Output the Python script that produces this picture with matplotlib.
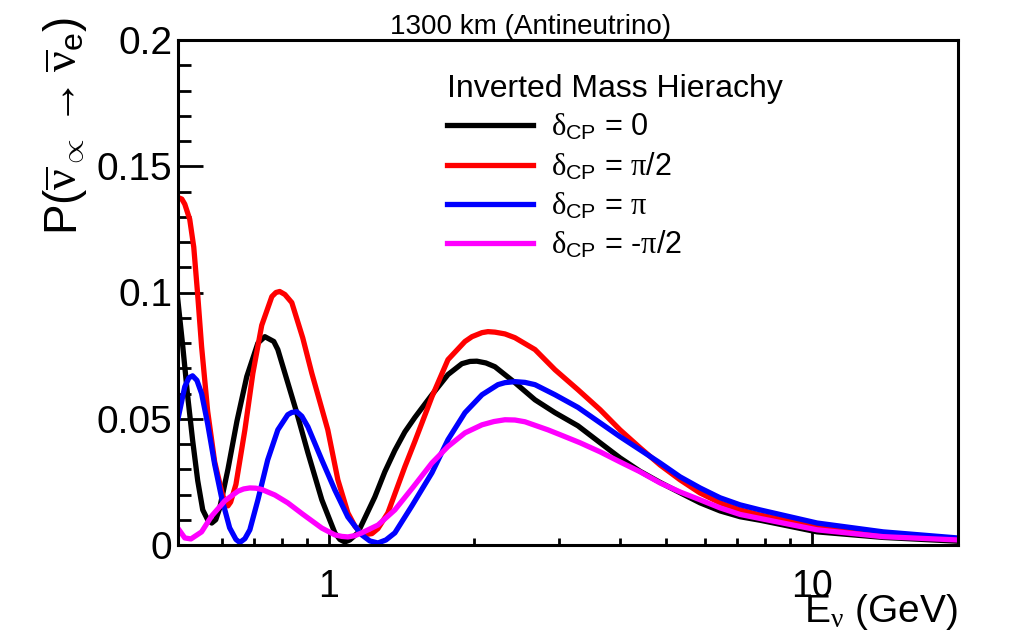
#oscilacao antineutrino 1300 km - hierarquia invertida

import numpy as np
import matplotlib
matplotlib.use('Agg')
import matplotlib.pyplot as plt
from matplotlib.ticker import MultipleLocator, NullFormatter

plt.rcParams['font.family'] = ['Liberation Sans', 'DejaVu Sans']
plt.rcParams['mathtext.fontset'] = 'custom'
plt.rcParams['mathtext.rm'] = 'Liberation Sans'
plt.rcParams['mathtext.it'] = 'Liberation Serif'
plt.rcParams['mathtext.sf'] = 'Liberation Sans'

# dados (E em GeV, probabilidade)
E_d0 = [0.486, 0.498, 0.510, 0.522, 0.535, 0.548, 0.561, 0.572, 0.583, 0.594,
        0.618, 0.645, 0.676, 0.713, 0.737, 0.769, 0.784, 0.822, 0.858, 0.905,
        0.967, 1.029, 1.054, 1.079, 1.105, 1.148, 1.245, 1.306, 1.370, 1.437,
        1.507, 1.635, 1.765, 1.886, 1.960, 2.026, 2.115, 2.208, 2.429, 2.673,
        2.941, 3.281, 3.646, 4.010, 4.412, 4.853, 5.340, 5.874, 6.463, 7.110,
        7.823, 10.27, 14.07, 20.03]
P_d0 = [0.0980, 0.0790, 0.0590, 0.0417, 0.0255, 0.0139, 0.0100, 0.0087, 0.0100, 0.0145,
        0.0300, 0.0490, 0.0667, 0.0800, 0.0825, 0.0806, 0.0774, 0.0643, 0.0524, 0.0365,
        0.0179, 0.0048, 0.0022, 0.0012, 0.0020, 0.0048, 0.0190, 0.0290, 0.0375, 0.0448,
        0.0505, 0.0595, 0.0675, 0.0718, 0.0727, 0.0728, 0.0721, 0.0706, 0.0643, 0.0575,
        0.0524, 0.0472, 0.0405, 0.0345, 0.0292, 0.0248, 0.0207, 0.0167, 0.0135, 0.0112,
        0.0098, 0.0052, 0.0030, 0.0015]

E_dpi2 = [0.486, 0.496, 0.503, 0.515, 0.525, 0.535, 0.545, 0.561, 0.580, 0.600,
          0.609, 0.618, 0.626, 0.642, 0.670, 0.696, 0.726, 0.762, 0.777, 0.791,
          0.811, 0.838, 0.883, 0.922, 0.995, 1.044, 1.095, 1.132, 1.159, 1.193,
          1.228, 1.264, 1.325, 1.437, 1.507, 1.635, 1.765, 1.914, 1.979, 2.076,
          2.136, 2.208, 2.316, 2.429, 2.673, 2.941, 3.281, 3.646, 4.010, 4.412,
          4.853, 5.340, 5.874, 6.463, 7.110, 7.823, 10.27, 14.07, 20.03]
P_dpi2 = [0.1377, 0.1370, 0.1350, 0.1290, 0.1180, 0.0990, 0.0786, 0.0530, 0.0330, 0.0210,
          0.0170, 0.0155, 0.0170, 0.0240, 0.0456, 0.0680, 0.0870, 0.0984, 0.1000, 0.1004,
          0.0992, 0.0960, 0.0820, 0.0680, 0.0456, 0.0258, 0.0127, 0.0075, 0.0052, 0.0042,
          0.0045, 0.0065, 0.0127, 0.0310, 0.0410, 0.0587, 0.0734, 0.0806, 0.0825, 0.0841,
          0.0845, 0.0843, 0.0836, 0.0821, 0.0774, 0.0694, 0.0615, 0.0536, 0.0456, 0.0385,
          0.0317, 0.0258, 0.0206, 0.0167, 0.0139, 0.0119, 0.0071, 0.0040, 0.0022]

E_dpi = [0.484, 0.503, 0.513, 0.522, 0.533, 0.545, 0.561, 0.580, 0.600, 0.623,
         0.642, 0.654, 0.670, 0.686, 0.713, 0.747, 0.784, 0.822, 0.838, 0.858,
         0.879, 0.905, 0.967, 1.029, 1.095, 1.170, 1.216, 1.264, 1.313, 1.370,
         1.486, 1.635, 1.765, 1.914, 2.076, 2.240, 2.316, 2.429, 2.548, 2.673,
         2.941, 3.281, 3.646, 4.010, 4.412, 4.853, 5.340, 5.874, 6.463, 7.110,
         7.823, 10.27, 14.07, 20.03]
P_dpi = [0.0476, 0.0627, 0.0662, 0.0670, 0.0652, 0.0600, 0.0480, 0.0320, 0.0185, 0.0068,
         0.0022, 0.0010, 0.0025, 0.0060, 0.0179, 0.0337, 0.0456, 0.0516, 0.0525, 0.0528,
         0.0510, 0.0468, 0.0337, 0.0218, 0.0111, 0.0040, 0.0016, 0.0008, 0.0020, 0.0048,
         0.0155, 0.0286, 0.0417, 0.0524, 0.0595, 0.0635, 0.0643, 0.0647, 0.0644, 0.0635,
         0.0595, 0.0545, 0.0484, 0.0429, 0.0377, 0.0325, 0.0270, 0.0226, 0.0187, 0.0159,
         0.0139, 0.0087, 0.0052, 0.0028]

E_dmpi2 = [0.484, 0.503, 0.518, 0.545, 0.572, 0.609, 0.648, 0.666, 0.686, 0.706,
           0.726, 0.773, 0.822, 0.883, 0.967, 1.029, 1.064, 1.095, 1.132, 1.170,
           1.264, 1.370, 1.493, 1.635, 1.765, 1.914, 2.076, 2.198, 2.316, 2.429,
           2.548, 2.844, 3.012, 3.313, 3.646, 4.010, 4.412, 4.853, 5.340, 5.874,
           6.463, 7.110, 7.823, 10.27, 14.07, 20.03]
P_dmpi2 = [0.0073, 0.0028, 0.0024, 0.0052, 0.0115, 0.0175, 0.0213, 0.0222, 0.0226, 0.0225,
           0.0220, 0.0198, 0.0167, 0.0122, 0.0067, 0.0040, 0.0034, 0.0032, 0.0037, 0.0048,
           0.0079, 0.0139, 0.0228, 0.0325, 0.0390, 0.0444, 0.0476, 0.0489, 0.0496, 0.0495,
           0.0488, 0.0456, 0.0437, 0.0405, 0.0369, 0.0329, 0.0290, 0.0246, 0.0210, 0.0179,
           0.0147, 0.0121, 0.0105, 0.0060, 0.0033, 0.0020]

labels = [r'$\delta_{\mathrm{CP}}$ = 0', r'$\delta_{\mathrm{CP}}$ = $\pi$/2',
          r'$\delta_{\mathrm{CP}}$ = $\pi$', r'$\delta_{\mathrm{CP}}$ = -$\pi$/2']
colors = ['black', 'red', 'blue', 'magenta']

y_ticks = [0, 0.05, 0.1, 0.15, 0.2]
y_ticklabels = ['0', '0.05', '0.1', '0.15', '0.2']
x_ticks = [1, 10]
x_ticklabels = ['1', '10']
x_minor = [0.6, 0.7, 0.8, 0.9, 2, 3, 4, 5, 6, 7, 8, 9]

# figura
fig = plt.figure(figsize=(10.15, 6.4), dpi=100)
ax = fig.add_axes([178/1015, 95/640, 780/1015, 505/640])

series = [(E_d0, P_d0), (E_dpi2, P_dpi2), (E_dpi, P_dpi), (E_dmpi2, P_dmpi2)]
lines = []
for (e, p), c, lab in zip(series, colors, labels):
    l, = ax.plot(e, p, color=c, lw=3.8, label=lab, solid_joinstyle='round')
    lines.append(l)

ax.set_xscale('log')
ax.set_xlim(0.487, 20.1)
ax.set_ylim(0, 0.2)

ax.set_xticks(x_ticks, x_ticklabels)
ax.set_xticks(x_minor, minor=True)
ax.xaxis.set_minor_formatter(NullFormatter())
ax.set_yticks(y_ticks, y_ticklabels)
ax.yaxis.set_minor_locator(MultipleLocator(0.01))

ax.tick_params(axis='y', which='major', direction='in', length=18, width=2,
               labelsize=28, pad=4)
ax.tick_params(axis='y', which='minor', direction='in', length=9, width=2)
ax.tick_params(axis='x', which='major', direction='in', length=10, width=2,
               labelsize=27, pad=17)
ax.tick_params(axis='x', which='minor', direction='in', length=5, width=2)
ax.tick_params(top=False, right=False, which='both')
for s in ax.spines.values():
    s.set_linewidth(2.2)

# textos
fig.text(531/1015, 1 - 27/640, '1300 km (Antineutrino)', ha='center', va='center',
         fontsize=20)
fig.text(65/1015, 1 - 18/640,
         r'$\mathrm{P}(\overline{\nu}_{\propto} \rightarrow \overline{\nu}_{\mathrm{e}})$',
         rotation=90, ha='center', va='top', fontsize=33)
fig.text(958/1015, 1 - 622/640, r'E$_{\nu}$ (GeV)', ha='right', va='baseline',
         fontsize=28)

ax.legend(lines, labels, title='Inverted Mass Hierachy', loc='upper left',
          bbox_to_anchor=(447/1015, 1 - 74/640), bbox_transform=fig.transFigure,
          frameon=False, fontsize=22, title_fontsize=23, handlelength=2.8,
          handletextpad=0.6, labelspacing=0.27, borderpad=0, borderaxespad=0,
          alignment='left')

fig.savefig('out.png', dpi=100)
